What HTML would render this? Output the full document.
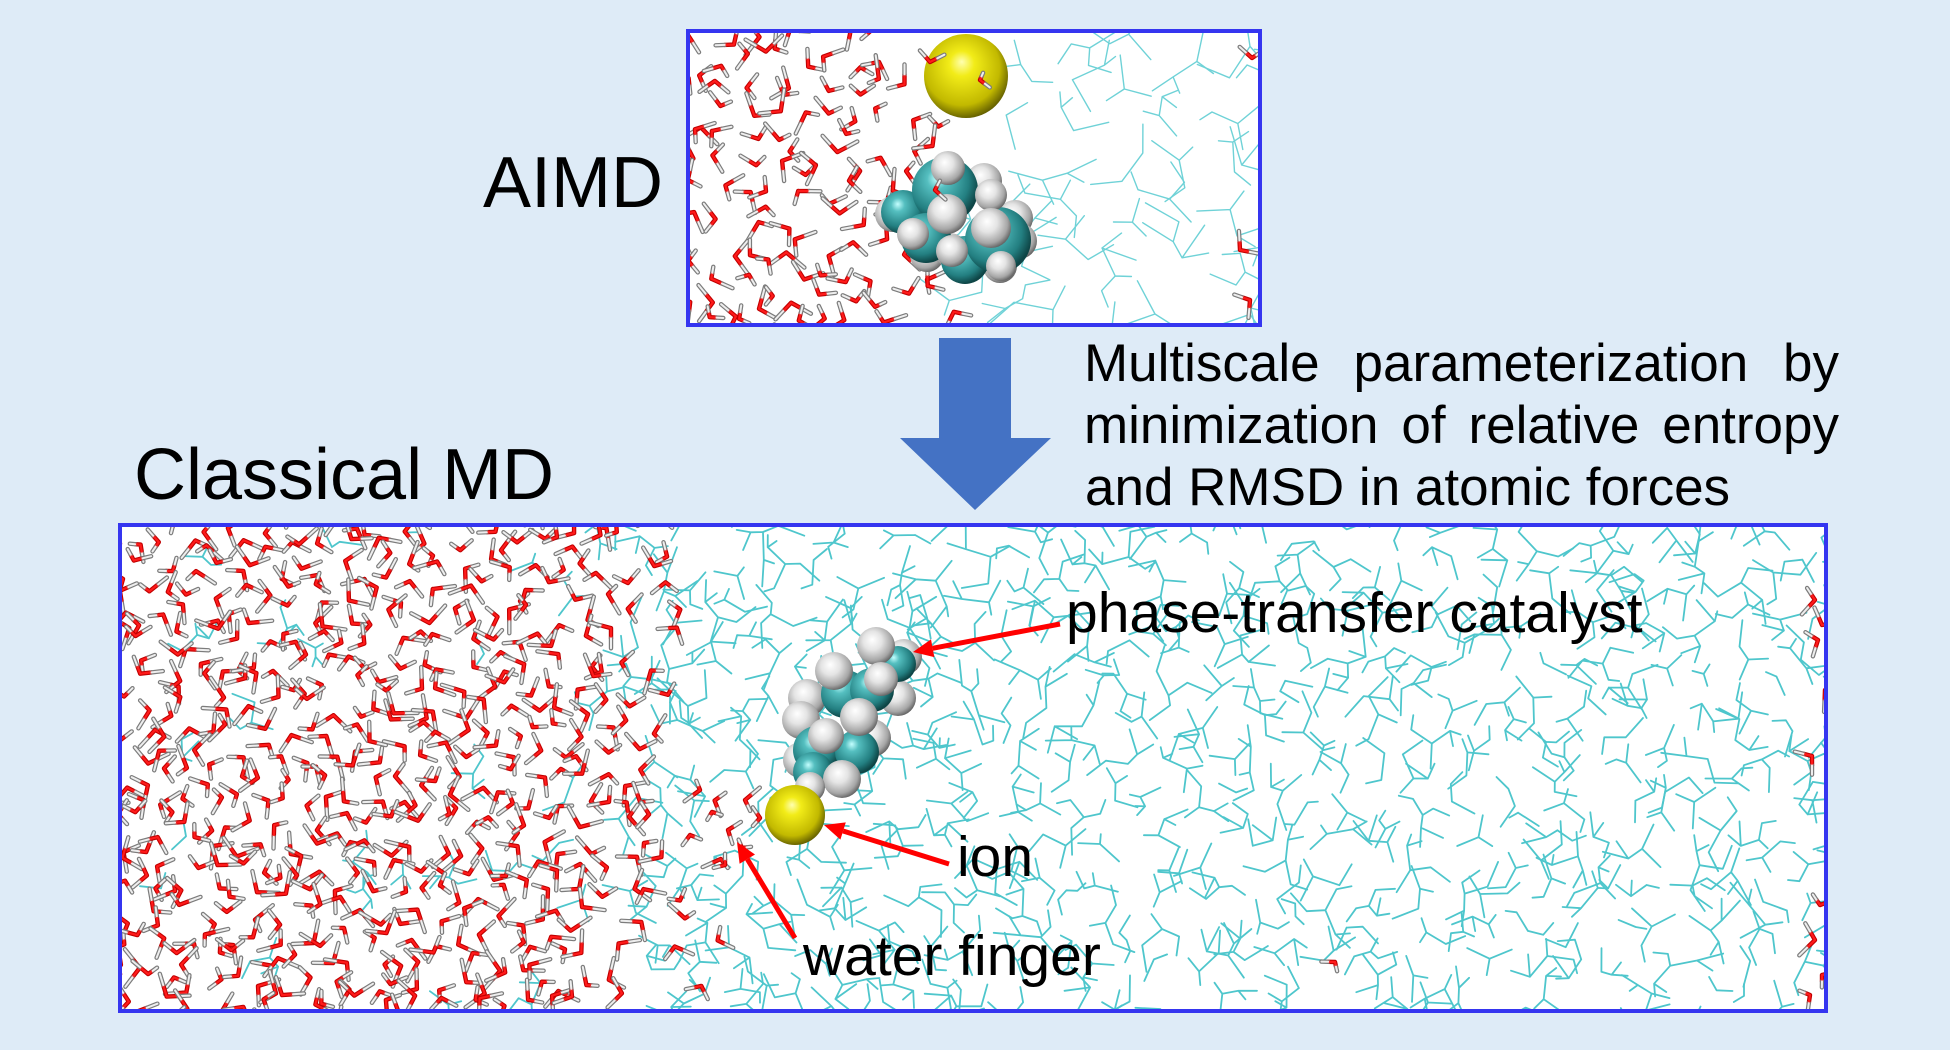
<!DOCTYPE html>
<html><head><meta charset="utf-8">
<style>
html,body{margin:0;padding:0;background:#deebf7;width:1950px;height:1050px;overflow:hidden}
svg{display:block}
text{font-family:"Liberation Sans",Arial,sans-serif;fill:#000}
.rd{fill:none;stroke:#c00000;stroke-width:4.4;stroke-linecap:round}
.rl{fill:none;stroke:#ff1a1a;stroke-width:2.2;stroke-linecap:round}
.wd{fill:none;stroke:#7c7c7c;stroke-width:4.4;stroke-linecap:round}
.wl{fill:none;stroke:#eeeeee;stroke-width:2;stroke-linecap:round}
</style></head><body>
<svg width="1950" height="1050" viewBox="0 0 1950 1050" xmlns="http://www.w3.org/2000/svg">
<defs>
<radialGradient id="gC" cx="0.4" cy="0.38" r="0.62" fx="0.38" fy="0.32">
<stop offset="0" stop-color="#c4ffff"/><stop offset="0.25" stop-color="#55bfc0"/><stop offset="0.75" stop-color="#237f81"/><stop offset="1" stop-color="#0e4546"/></radialGradient>
<radialGradient id="gH" cx="0.42" cy="0.4" r="0.62" fx="0.4" fy="0.33">
<stop offset="0" stop-color="#ffffff"/><stop offset="0.4" stop-color="#e4e4e4"/><stop offset="0.8" stop-color="#a6a6a6"/><stop offset="1" stop-color="#636363"/></radialGradient>
<radialGradient id="gY" cx="0.45" cy="0.42" r="0.6" fx="0.45" fy="0.33">
<stop offset="0" stop-color="#ffffb0"/><stop offset="0.25" stop-color="#f2ec18"/><stop offset="0.75" stop-color="#c2b900"/><stop offset="1" stop-color="#5e5a00"/></radialGradient>
<clipPath id="cTop"><rect x="690" y="33" width="568" height="290"/></clipPath>
<clipPath id="cBot"><rect x="122" y="527" width="1702" height="482"/></clipPath>
</defs>
<rect width="1950" height="1050" fill="#deebf7"/>

<!-- TOP BOX -->
<rect x="688" y="31" width="572" height="294" fill="#fff"/>
<g clip-path="url(#cTop)">
  <g id="tSolv" fill="none" stroke="#6fd2d7" stroke-width="1.4" stroke-linecap="round" stroke-linejoin="round"></g>
  <g id="tWat"></g>
  <circle cx="966" cy="76" r="42" fill="url(#gY)"/>
  <g>
    <circle cx="893" cy="214" r="18" fill="url(#gH)"/>
    <circle cx="917" cy="228" r="18" fill="url(#gH)"/>
    <circle cx="927" cy="255" r="17" fill="url(#gH)"/>
    <circle cx="984" cy="181" r="18" fill="url(#gH)"/>
    <circle cx="1015" cy="218" r="18" fill="url(#gH)"/>
    <circle cx="1019" cy="241" r="18" fill="url(#gH)"/>
    <circle cx="1000" cy="266" r="17" fill="url(#gH)"/>
    <circle cx="950" cy="250" r="17" fill="url(#gH)"/>
    <circle cx="903" cy="212" r="22" fill="url(#gC)"/>
    <circle cx="945" cy="190" r="33" fill="url(#gC)"/>
    <circle cx="926" cy="238" r="25" fill="url(#gC)"/>
    <circle cx="965" cy="260" r="24" fill="url(#gC)"/>
    <circle cx="998" cy="240" r="33" fill="url(#gC)"/>
    <circle cx="948" cy="168" r="17" fill="url(#gH)"/>
    <circle cx="991" cy="195" r="16" fill="url(#gH)"/>
    <circle cx="947" cy="214" r="20" fill="url(#gH)"/>
    <circle cx="913" cy="234" r="16" fill="url(#gH)"/>
    <circle cx="991" cy="228" r="20" fill="url(#gH)"/>
    <circle cx="952" cy="251" r="16" fill="url(#gH)"/>
    <circle cx="1001" cy="266" r="15" fill="url(#gH)"/>
  </g>
  <g id="tWat2"></g>
</g>
<rect x="688" y="31" width="572" height="294" fill="none" stroke="#3535f0" stroke-width="4"/>

<!-- BOTTOM BOX -->
<rect x="120" y="525" width="1706" height="486" fill="#fff"/>
<g clip-path="url(#cBot)">
  <g id="bSolv" fill="none" stroke="#4ec6cc" stroke-width="1.8" stroke-linecap="round" stroke-linejoin="round"></g>
  <g id="bWat"></g>
  <g>
    <circle cx="807" cy="698" r="19" fill="url(#gH)"/>
    <circle cx="801" cy="720" r="19" fill="url(#gH)"/>
    <circle cx="801" cy="760" r="18" fill="url(#gH)"/>
    <circle cx="898" cy="698" r="18" fill="url(#gH)"/>
    <circle cx="872" cy="738" r="19" fill="url(#gH)"/>
    <circle cx="904" cy="657" r="18" fill="url(#gH)"/>
    <circle cx="898" cy="664" r="18" fill="url(#gC)"/>
    <circle cx="845" cy="694" r="24" fill="url(#gC)"/>
    <circle cx="872" cy="690" r="22" fill="url(#gC)"/>
    <circle cx="817" cy="750" r="24" fill="url(#gC)"/>
    <circle cx="857" cy="752" r="22" fill="url(#gC)"/>
    <circle cx="813" cy="772" r="20" fill="url(#gC)"/>
    <circle cx="876" cy="646" r="19" fill="url(#gH)"/>
    <circle cx="834" cy="671" r="19" fill="url(#gH)"/>
    <circle cx="881" cy="679" r="17" fill="url(#gH)"/>
    <circle cx="859" cy="717" r="19" fill="url(#gH)"/>
    <circle cx="826" cy="736" r="18" fill="url(#gH)"/>
    <circle cx="842" cy="779" r="19" fill="url(#gH)"/>
    <circle cx="810" cy="787" r="15" fill="url(#gH)"/>
  </g>
  <circle cx="795" cy="815" r="30" fill="url(#gY)"/>
</g>
<rect x="120" y="525" width="1706" height="486" fill="none" stroke="#3535f0" stroke-width="4"/>

<!-- Blue arrow -->
<polygon points="939,338 1011,338 1011,438 1051,438 975,510 900,438 939,438" fill="#4472c4"/>

<!-- Red arrows -->
<g stroke="#ff0000" stroke-width="5" fill="none">
  <line x1="1060" y1="624" x2="932.6" y2="648.3"/>
  <line x1="949" y1="864" x2="843.1" y2="831"/>
  <line x1="795" y1="938" x2="747.3" y2="859.1"/>
</g>
<g fill="#ff0000">
  <polygon points="913,652 931,639.4 934.3,657.1"/>
  <polygon points="824,825 845.8,822.4 840.4,839.6"/>
  <polygon points="737,842 755,854.5 739.6,863.8"/>
</g>

<!-- Text -->
<text x="483" y="207" font-size="72">AIMD</text>
<text x="134" y="499" font-size="72">Classical MD</text>
<g font-size="53">
  <text x="1084" y="381">Multiscale</text>
  <text x="1353.5" y="381">parameterization</text>
  <text x="1839" y="381" text-anchor="end">by</text>
  <text x="1084" y="443">minimization</text>
  <text x="1401.4" y="443">of</text>
  <text x="1468.5" y="443">relative</text>
  <text x="1839" y="443" text-anchor="end">entropy</text>
  <text x="1085" y="505">and RMSD in atomic forces</text>
</g>
<g font-size="57">
  <text x="1066" y="632">phase-transfer catalyst</text>
  <text x="957" y="876">ion</text>
  <text x="803" y="975">water finger</text>
</g>
</svg>
<script>
(function(){
var seed=20240611;
function rnd(){seed|=0;seed=seed+0x6D2B79F5|0;var t=Math.imul(seed^seed>>>15,1|seed);t=t+Math.imul(t^t>>>7,61|t)^t;return((t^t>>>14)>>>0)/4294967296;}
function f(v){return Math.round(v*10)/10;}
function water(x,y,s){
  var a=rnd()*6.2832,h=0.91;
  var b=[[a-h,s*(0.45+0.55*rnd())],[a+h,s*(0.45+0.55*rnd())]];
  var d='',w='';
  for(var i=0;i<2;i++){
    var an=b[i][0],l=b[i][1];
    var hx=x+Math.cos(an)*l,hy=y+Math.sin(an)*l,mx=(x+hx)/2,my=(y+hy)/2;
    d+='M'+f(x)+' '+f(y)+'L'+f(mx)+' '+f(my);
    w+='M'+f(mx)+' '+f(my)+'L'+f(hx)+' '+f(hy);
  }
  return '<path class="rd" d="'+d+'"/><path class="wd" d="'+w+'"/><path class="rl" d="'+d+'"/><path class="wl" d="'+w+'"/>';
}
function solv(x,y,s){
  var a0=rnd()*6.2832,d='',n=rnd()<0.75?3:2;
  for(var i=0;i<n;i++){
    var a=a0+i*2.094+(rnd()-0.5)*0.9,l=s*(0.35+0.65*rnd());
    var ex=x+Math.cos(a)*l,ey=y+Math.sin(a)*l;
    d+='M'+f(x)+' '+f(y)+'L'+f(ex)+' '+f(ey);
    if(rnd()<0.55){
      var bb=a+(rnd()<0.5?1:-1)*(0.7+rnd()*0.7),l2=s*(0.35+0.65*rnd());
      var fx=ex+Math.cos(bb)*l2,fy=ey+Math.sin(bb)*l2;
      d+='L'+f(fx)+' '+f(fy);
      if(rnd()<0.4){
        var c=bb+(rnd()<0.5?1:-1)*(0.7+rnd()*0.7),l3=s*(0.35+0.65*rnd());
        d+='M'+f(ex)+' '+f(ey)+'L'+f(ex+Math.cos(c)*l3)+' '+f(ey+Math.sin(c)*l3);
      }
    }
  }
  return '<path d="'+d+'"/>';
}
var s='';
function grid(x0,y0,x1,y1,cell,fn,sz,prob){
  for(var gy=y0;gy<y1;gy+=cell)for(var gx=x0;gx<x1;gx+=cell){
    var x=gx+rnd()*cell,y=gy+rnd()*cell;
    if(!prob||rnd()<prob(x,y))s+=fn(x,y,sz);
  }
}
/* bottom solvent */
s='';
grid(560,512,1845,1020,40,solv,28,function(x){return x<680?(x-560)/120:1;});
grid(122,527,560,1010,85,solv,24,function(){return 0.5;});
document.getElementById('bSolv').innerHTML=s;
/* bottom water */
s='';
grid(110,512,735,1020,23,water,24,function(x){return x<600?1:(x<735?(735-x)/135*0.6:0);});
var fing=[[745,800],[760,818],[728,830],[742,848],[712,812],[700,790],[725,865],[690,835]];
for(var i=0;i<fing.length;i++)s+=water(fing[i][0],fing[i][1],20);
var edge=[[1815,600],[1822,625],[1818,640],[1812,756],[1820,905],[1815,940],[1822,975],[1810,995],[1825,690]];
for(i=0;i<edge.length;i++)s+=water(edge[i][0],edge[i][1],22);
s+=water(1335,962,18);
document.getElementById('bWat').innerHTML=s;
/* top solvent */
s='';
grid(935,22,1275,335,54,solv,40,function(x){return x<1000?(x-935)/65:1;});
document.getElementById('tSolv').innerHTML=s;
/* top water */
s='';
grid(684,24,985,335,26,water,24,function(x){return x<890?1:(x<985?(985-x)/95*0.6:0);});
var tedge=[[1252,58],[1250,300],[1240,250]];
for(i=0;i<tedge.length;i++)s+=water(tedge[i][0],tedge[i][1],20);
document.getElementById('tWat').innerHTML=s;
document.getElementById('tWat2').innerHTML=water(930,62,18)+water(980,80,17)+water(935,190,16);
})();
</script>
</body></html>
